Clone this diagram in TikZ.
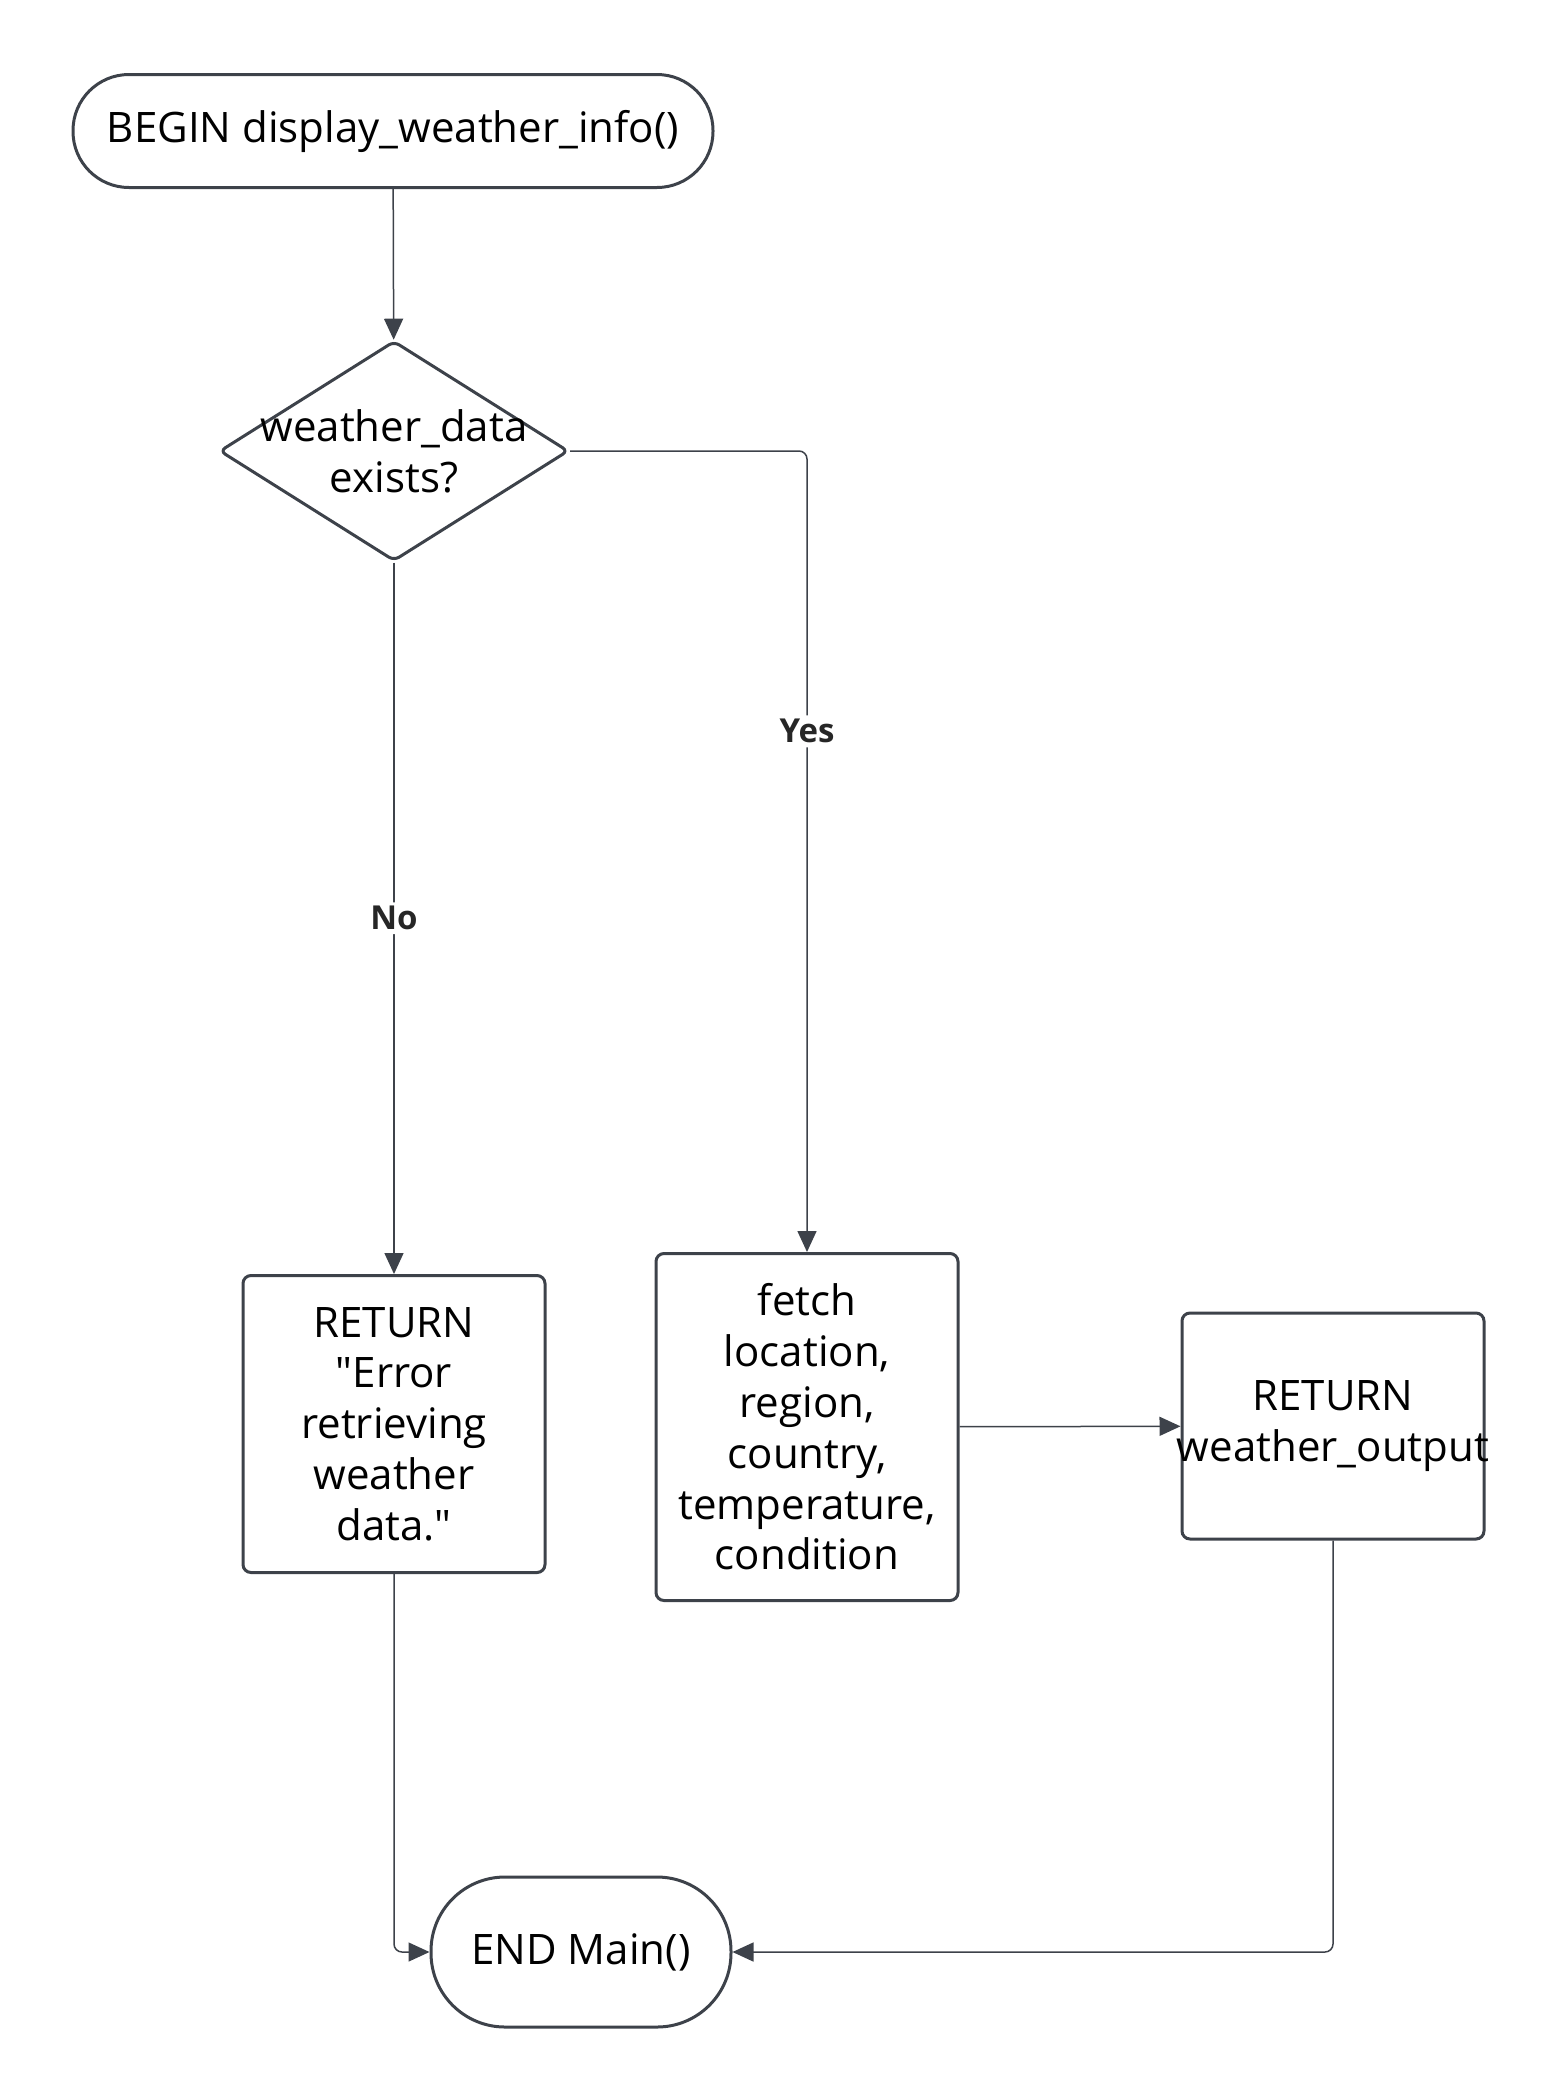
\documentclass[tikz,border=0pt]{standalone}
\usepackage{fontspec}
\setmainfont{Open Sans}
\usetikzlibrary{arrows.meta}
\usetikzlibrary{shapes.geometric}
\usetikzlibrary{positioning}

\definecolor{linegray}{RGB}{61,66,74}

\begin{document}
\begin{tikzpicture}[
	x=0.5pt, y=-0.5pt,
  > = {Triangle[length=10.5pt,width=9.5pt]},
  every node/.style = {font=\fontsize{21}{25.4}\selectfont, align=center, text=black},
  terminal/.style = {draw=linegray, line width=1.5pt, rectangle, inner sep=0pt},
  decision/.style = {draw=linegray, line width=1.5pt, diamond, inner sep=0pt, rounded corners=3pt, minimum width=174.5pt, minimum height=110pt},
  process/.style = {draw=linegray, line width=1.5pt, rectangle, rounded corners=4pt, inner sep=0pt, minimum width=151pt},
  flow/.style = {draw=linegray, line width=0.75pt, ->, rounded corners=4pt},
  answer/.style = {font=\fontsize{16.5}{20}\selectfont\bfseries, fill=white, inner sep=2pt, text=black!85}
  ]
	\useasboundingbox (0,0) rectangle (1556,2100);

	\coordinate (@begin) at (393,131);
	\coordinate (@check) at (394,451);
	\coordinate (@errret) at (394,1424);
	\coordinate (@fetch) at (807,1427);
	\coordinate (@outret) at (1333,1426);
	\coordinate (@end) at (581,1952);

	\node[terminal, minimum width=320pt, minimum height=56.5pt, rounded corners=28pt] (begin) at (@begin) {BEGIN display\_weather\_info()};
	\node[decision] (check) at (@check) {};
	\node (checktxt) at (@check) {weather\_data\\exists?};
	\node[process, minimum height=148.5pt] (errret) at (@errret) {RETURN\\\textquotedbl Error\\retrieving\\weather\\data.\textquotedbl};
	\node[process, minimum height=173.5pt] (fetch) at (@fetch) {fetch\\location,\\region,\\country,\\temperature,\\condition};
	\node[process, minimum height=113pt] (outret) at (@outret) {RETURN\\\makebox[140pt]{weather\_output}};
	\node[terminal, minimum width=150pt, minimum height=75pt, rounded corners=37pt] (end) at (@end) {END Main()};

	\draw[flow] (begin) -- (check);
	\draw[flow] (check.south) -- node[answer] {No} (errret.north);
	\draw[flow] (check.east) -| node[answer, pos=0.675] {Yes} (fetch.north);
	\draw[flow] (fetch) -- (outret);
	\draw[flow] (errret.south) |- (end.west);
	\draw[flow] (outret.south) |- (end.east);

\end{tikzpicture}
\end{document}
